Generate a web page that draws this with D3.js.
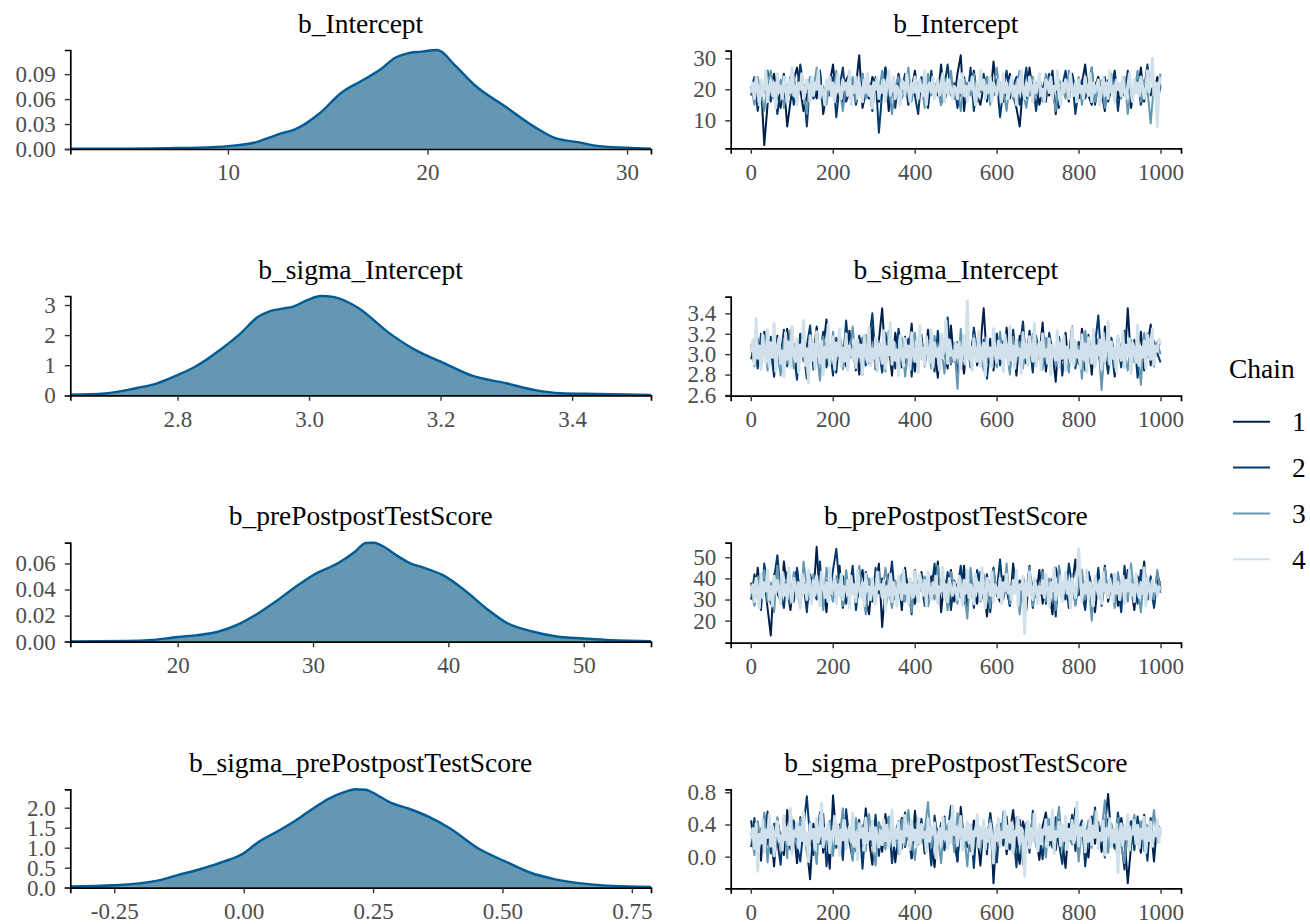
<!DOCTYPE html>
<html><head><meta charset="utf-8">
<script src="https://cdn.jsdelivr.net/npm/d3@7"></script>
<style>body{margin:0;background:#fff}</style>
</head><body><svg id="c" width="1310" height="924"></svg>
<script>
// ---------------- DATA ----------------
const params = ["b_Intercept","b_sigma_Intercept","b_prePostpostTestScore","b_sigma_prePostpostTestScore"];
const chains = ["1","2","3","4"];
const chainColors = ["#011f4b","#03396c","#6497b1","#d1e1ec"];

// density curves: [value, density]
const densIntercept = [[2.1,0.0003],[5,0.0005],[7,0.001],[8.5,0.0016],[10,0.0035],[11.3,0.0075],[12.1,0.014],[12.7,0.019],[13.3,0.023],[14.6,0.043],[15.7,0.068],[16.7,0.082],[17.6,0.095],[18.4,0.110],[19,0.115],[19.7,0.117],[20.5,0.119],[21.4,0.100],[22.4,0.076],[23.9,0.051],[25.4,0.026],[26.4,0.013],[27.6,0.008],[28.4,0.004],[30,0.0015],[31.2,0.0004]];
const densSigmaIntercept = [[2.637,0.02],[2.69,0.06],[2.74,0.25],[2.768,0.39],[2.8,0.67],[2.826,0.94],[2.864,1.5],[2.896,2.06],[2.922,2.6],[2.941,2.8],[2.96,2.88],[2.976,2.95],[2.998,3.17],[3.018,3.3],[3.037,3.27],[3.075,2.9],[3.12,2.1],[3.158,1.55],[3.21,1.02],[3.248,0.65],[3.3,0.4],[3.344,0.17],[3.382,0.07],[3.44,0.045],[3.52,0.01]];
const densPrePost = [[12.07,0.0002],[16.3,0.0005],[18.1,0.0013],[20,0.0036],[21.5,0.005],[23.1,0.008],[24.3,0.0125],[25.9,0.0215],[27.4,0.032],[28.7,0.042],[30,0.051],[31.9,0.0605],[33.1,0.069],[33.9,0.0757],[34.5,0.0759],[35.2,0.073],[36.2,0.066],[37.2,0.06],[38.1,0.057],[39.6,0.051],[41.2,0.0395],[42.8,0.0255],[44.3,0.0145],[46.2,0.0078],[48,0.004],[50,0.0025],[52,0.0012],[54.97,0.0004]];
const densSigmaPrePost = [[-0.335,0.03],[-0.25,0.06],[-0.169,0.17],[-0.129,0.31],[-0.08,0.48],[-0.039,0.65],[0,0.86],[0.026,1.12],[0.067,1.42],[0.099,1.67],[0.132,1.96],[0.164,2.22],[0.197,2.4],[0.215,2.46],[0.235,2.45],[0.26,2.3],[0.285,2.12],[0.318,1.98],[0.358,1.77],[0.399,1.48],[0.456,0.96],[0.505,0.66],[0.553,0.38],[0.602,0.21],[0.667,0.09],[0.715,0.045],[0.787,0.02]];

// tick values
const densXTicks = [[10,20,30],[2.8,3.0,3.2,3.4],[20,30,40,50],[-0.25,0,0.25,0.5,0.75]];
const densYTicks = [[0,0.03,0.06,0.09],[0,1,2,3],[0,0.02,0.04,0.06],[0,0.5,1,1.5,2]];
const densXDec = [0,1,0,2];
const densYDec = [2,0,2,1];
const traceXTicks = [0,200,400,600,800,1000];
const traceYTicks = [[10,20,30],[2.6,2.8,3.0,3.2,3.4],[20,30,40,50],[0.0,0.4,0.8]];
const traceYDec = [0,1,0,1];
const traceYLimits = [[0.97,32.45],[2.593,3.563],[9.57,56.9],[-0.393,0.837]];
const iterLimits = [1,1000];

// thinned trace draws, per chain (chains 1-3 every ~8th iteration, chain 4 every ~4th)
const traceIntercept1 = [20,24,17,22,2,15,21,25,18,14,22,8,16,23,27,20,13,18,24,21,17,26,12,19,22,28,16,20,15,23,25,18,21,31,14,19,17,24,22,16,20,27,13,21,18,25,19,23,15,20,26,17,22,19,14,24,21,18,28,16,20,23,17,25,31,13,22,20,26,18,15,21,24,17,29,19,22,16,20,25,18,14,8,21,17,27,19,22,15,20,24,18,26,12,21,19,23,16,25,20,17,22,28,18,15,21,24,19,13,23,20,26,17,22,18,25,14,21,19,27,16,23,20,18,24,21];
const traceIntercept2 = [18,23,13,21,19,26,16,22,12,20,25,17,24,15,19,28,21,8,23,17,20,26,14,22,18,24,11,21,27,16,19,23,15,20,25,18,22,13,24,6,19,27,17,21,14,23,20,25,16,22,18,12,24,20,17,26,19,23,15,21,28,18,22,14,20,24,17,27,13,21,19,25,16,22,18,23,11,20,26,17,21,24,15,19,27,18,22,13,23,20,16,25,19,22,14,21,26,18,24,12,20,23,17,21,27,15,22,19,24,16,20,25,13,22,18,26,17,21,23,15,20,28,18,22,16,21];
const traceIntercept3 = [21,15,24,19,13,22,26,17,20,23,14,21,18,25,16,22,19,12,24,20,27,17,21,15,23,18,26,20,13,22,19,24,16,21,25,17,20,14,23,19,26,18,22,12,21,24,17,20,27,16,23,19,21,14,25,18,22,20,15,24,19,26,17,21,13,23,20,18,25,16,22,19,24,15,21,27,18,20,13,23,17,22,26,19,14,21,24,18,20,16,25,22,19,13,23,21,17,26,20,18,24,15,22,19,27,16,21,23,14,20,25,18,22,17,24,12,21,19,26,16,23,20,9,22,19,25];
const traceIntercept4 = [19,22,17,24,20,15,23,18,21,26,16,20,23,18,22,14,25,19,21,17,24,20,16,23,19,
27,18,21,15,22,20,25,17,19,23,21,16,24,18,22,20,26,17,21,19,15,23,20,24,18,
22,16,21,25,19,17,23,20,22,18,26,15,21,19,24,17,22,20,16,23,19,25,18,21,14,
22,20,24,17,21,19,23,16,22,26,18,20,24,17,21,19,15,23,22,18,25,20,16,22,19,
24,21,17,23,20,18,26,15,21,22,19,24,17,20,23,18,21,25,16,22,19,23,20,17,21,
20,17,23,19,25,18,21,16,22,20,24,19,15,22,18,26,20,23,17,21,19,24,16,22,20,
18,23,21,16,25,19,22,17,20,24,18,21,15,23,19,26,20,17,22,18,24,21,16,23,19,
21,25,18,20,16,23,22,19,24,17,21,20,26,18,15,22,19,23,21,17,25,20,18,22,16,
23,19,21,17,24,20,18,25,16,22,19,21,23,15,20,24,18,22,17,26,19,21,16,23,20,
22,18,24,19,17,21,25,20,16,23,19,22,18,24,21,17,20,26,19,23,30,18,22,8,21,24];

const traceSigmaInt1 = [3.08,2.92,3.15,2.87,3.22,2.95,3.05,2.78,3.18,3.01,2.89,3.25,2.96,3.10,2.84,3.20,3.03,2.76,3.14,2.98,3.27,2.90,3.07,3.34,2.93,3.12,2.82,3.19,3.00,2.88,3.23,2.97,3.11,2.80,3.16,3.04,2.91,3.26,2.85,3.13,3.45,2.94,3.09,2.79,3.21,3.02,2.87,3.17,2.95,3.30,2.83,3.08,3.14,2.90,3.24,2.98,3.05,2.77,3.19,3.01,2.86,3.28,2.93,3.12,3.03,2.81,3.16,2.97,3.22,2.89,3.07,3.45,2.92,3.15,2.84,3.20,3.00,2.88,3.26,2.95,3.10,2.79,3.18,3.04,2.91,3.23,2.86,3.13,2.98,3.31,2.83,3.09,3.02,2.73,3.17,2.94,3.21,2.87,3.11,3.06,2.90,3.25,2.96,3.14,2.80,3.19,3.01,2.85,3.27,2.93,3.08,2.78,3.16,3.03,2.89,3.45,2.92,3.12,2.97,3.22,2.84,3.10,3.29,2.95,3.06,3.12];
const traceSigmaInt2 = [2.95,3.12,2.86,3.20,3.03,2.90,3.17,2.81,3.09,2.97,3.24,2.88,3.14,3.00,2.75,3.19,2.93,3.08,3.28,2.85,3.11,2.99,3.22,2.87,3.05,2.79,3.16,3.02,2.92,3.33,2.96,3.07,2.84,3.18,3.01,2.89,3.13,3.40,2.94,3.06,2.82,3.21,2.98,3.10,2.86,3.25,3.03,2.91,3.15,2.78,3.08,2.97,3.19,2.88,3.12,3.00,2.83,3.23,2.95,3.09,3.36,2.90,3.04,2.80,3.17,2.99,3.11,2.87,3.26,3.02,2.93,3.14,2.76,3.07,2.96,3.20,2.89,3.13,3.01,2.85,3.24,2.94,3.06,3.32,2.91,3.10,2.82,3.18,2.98,3.05,2.88,3.21,3.03,2.92,3.15,2.79,3.08,2.97,3.27,2.86,3.12,3.00,2.84,3.19,2.95,3.09,3.38,2.90,3.04,2.81,3.16,2.99,3.11,2.87,3.23,3.02,2.93,3.14,2.77,3.07,2.96,3.20,2.89,3.13,3.01,2.92];
const traceSigmaInt3 = [3.10,2.88,3.05,2.93,3.18,2.84,3.12,2.97,3.02,2.79,3.15,2.91,3.24,2.86,3.08,2.99,3.20,2.82,3.11,2.95,3.06,2.74,3.17,3.01,2.89,3.22,2.94,3.09,2.85,3.14,2.98,3.27,2.90,3.04,2.80,3.19,2.96,3.07,2.87,3.13,3.00,2.83,3.23,2.92,3.10,2.97,3.16,2.78,3.05,2.93,3.21,2.88,3.12,2.99,3.03,2.86,3.18,2.94,3.08,2.81,3.15,2.91,3.11,2.66,3.25,2.95,3.06,2.89,3.19,2.98,3.02,2.84,3.14,2.92,3.09,2.87,3.22,2.96,3.04,2.80,3.17,2.93,3.12,2.86,3.07,2.99,3.20,2.90,3.01,2.85,3.16,2.94,3.10,2.88,3.13,2.97,3.05,2.82,3.19,2.91,3.08,2.76,3.23,2.95,3.03,2.89,3.15,2.65,3.11,2.93,3.06,2.87,3.18,2.98,3.02,2.84,3.14,2.92,3.09,2.70,3.21,2.96,3.04,2.88,3.12,3.00];
const traceSigmaInt4 = [3.02,3.14,2.90,3.35,2.96,3.08,2.85,3.19,3.01,2.92,3.24,2.88,3.11,2.97,3.30,2.83,3.06,3.16,2.91,3.03,2.78,3.21,2.95,3.12,2.87,
3.27,3.00,2.93,3.15,2.82,3.09,2.98,3.33,2.89,3.05,2.72,3.18,2.94,3.10,2.86,3.22,3.01,2.91,3.13,2.80,3.07,2.97,3.29,2.90,3.04,
3.17,2.85,3.11,2.99,3.25,2.88,3.06,2.93,3.20,2.84,3.08,3.02,2.95,3.14,2.87,3.14,2.98,3.09,2.81,3.19,3.00,2.92,3.26,2.89,3.05,
2.96,3.16,2.83,3.10,3.03,2.91,3.23,2.86,3.07,2.99,3.31,2.90,3.12,2.94,3.04,2.79,3.18,3.01,2.88,3.15,2.97,3.08,2.85,3.21,3.00,
2.93,3.13,2.82,3.28,2.95,3.06,2.89,3.17,3.02,2.92,3.24,2.87,3.11,2.98,3.05,2.84,3.20,2.96,3.09,3.33,2.91,3.14,2.99,3.03,2.94,
3.10,2.97,3.12,2.86,3.05,3.18,2.90,3.52,2.95,3.07,2.84,3.15,3.00,2.93,3.22,2.88,3.04,3.11,2.79,3.16,2.98,3.06,2.87,3.25,3.01,
2.92,3.13,2.96,3.09,2.83,3.19,3.03,2.90,3.27,2.94,3.08,2.86,3.14,2.99,3.05,2.81,3.21,2.97,3.10,2.89,3.17,3.02,2.93,3.30,2.88,
3.06,3.12,2.85,3.20,2.98,3.04,2.91,3.15,2.80,3.09,3.01,2.94,3.23,2.87,3.11,2.96,3.18,2.84,3.07,3.00,2.92,3.26,2.89,3.13,2.97,
3.03,2.86,3.19,2.95,3.10,2.82,3.16,3.02,2.91,3.24,2.88,3.08,2.99,3.14,2.85,3.21,2.93,3.05,3.32,2.90,3.12,2.96,3.06,2.83,3.17,
3.00,2.94,3.22,2.87,3.09,2.98,3.15,2.81,3.11,3.04,2.92,3.28,2.89,3.07,2.97,3.13,2.86,3.19,3.01,2.95,3.25,2.90,3.08,3.03,3.14,3.10];

const tracePrePost1 = [38,28,45,31,40,26,13,42,33,29,48,35,25,39,44,30,36,27,41,32,55,29,37,24,43,34,30,46,26,38,33,41,28,36,44,31,23,39,35,47,17,37,42,29,34,40,25,45,32,38,28,36,43,30,27,41,35,48,24,39,33,44,29,37,31,46,26,40,34,28,43,36,22,38,45,32,29,41,35,27,47,33,39,30,25,42,36,31,44,28,38,34,23,45,37,30,41,26,36,49,32,39,28,43,35,24,40,33,46,29,37,42,27,38,31,44,36,25,41,34,48,30,39,27,43,35];
const tracePrePost2 = [30,42,34,25,47,36,28,40,51,33,26,43,37,29,45,31,38,24,42,35,30,48,27,39,33,44,54,36,41,28,34,46,25,38,31,43,37,29,45,33,40,26,35,48,30,39,28,42,36,23,44,32,38,27,41,34,47,29,37,31,43,25,39,35,46,28,33,40,26,44,36,30,42,24,38,34,49,31,37,27,43,35,29,41,33,46,26,39,32,44,28,36,40,22,45,34,30,47,37,28,41,33,25,43,36,31,45,27,38,34,42,29,36,24,46,32,40,35,28,44,37,30,41,26,39,38];
const tracePrePost3 = [35,27,41,33,44,29,38,24,46,31,37,40,28,43,34,26,48,36,30,42,33,39,25,45,35,29,41,37,27,44,32,38,30,46,34,23,40,36,28,43,31,45,35,26,39,33,42,29,37,24,44,32,38,41,27,35,30,46,33,39,25,43,36,28,40,34,21,45,31,37,29,42,35,26,44,33,38,30,47,28,36,41,23,39,34,45,27,37,32,43,29,40,35,25,46,33,38,31,42,27,36,44,30,39,20,41,35,28,45,32,37,26,43,34,39,29,47,31,36,24,42,35,38,30,44,33];
const tracePrePost4 = [33,37,29,40,35,26,42,31,38,34,44,30,36,27,41,33,39,35,28,43,32,37,30,45,34,
29,40,36,31,38,26,42,33,37,30,44,35,28,39,32,41,34,27,43,36,31,38,29,45,33,
35,40,28,37,32,42,30,36,34,39,26,41,33,37,29,44,35,31,38,27,42,34,36,30,40,
33,28,43,35,37,31,39,25,36,32,42,29,38,34,27,41,35,30,44,33,37,28,40,36,31,
43,34,29,42,37,32,39,27,43,35,30,38,33,41,28,36,34,45,31,37,29,40,35,32,38,
34,30,41,36,27,39,33,44,31,37,35,28,42,34,38,30,45,33,26,40,36,32,43,29,37,
35,31,40,28,38,34,42,33,36,30,39,33,44,27,37,35,41,14,38,32,43,34,30,40,36,
28,36,33,39,31,42,35,27,38,34,45,30,37,32,41,29,36,43,33,38,26,40,35,31,39,
54,42,29,37,33,44,30,38,35,27,41,36,32,39,28,43,34,37,31,40,35,29,42,33,38,
30,36,41,28,39,34,44,32,37,29,42,35,31,38,33,45,27,40,36,30,39,34,37,32,36,35];

const traceSigmaPP1 = [0.45,0.08,0.38,-0.05,0.52,0.15,0.31,-0.12,0.47,0.22,0.02,0.58,0.19,0.36,-0.08,0.49,0.26,0.11,-0.28,0.41,0.17,0.55,0.05,0.33,-0.15,0.76,0.24,0.40,0.09,0.51,0.18,-0.03,0.44,0.29,0.13,0.60,0.21,-0.10,0.37,0.27,0.06,0.53,0.16,0.42,-0.07,0.30,0.48,0.12,0.35,-0.02,0.57,0.20,0.39,0.04,0.46,0.14,-0.13,0.34,0.25,0.50,0.10,0.43,0.23,-0.06,0.62,0.18,0.32,0.07,0.45,0.28,-0.11,0.40,0.15,0.54,-0.33,0.36,0.21,0.47,0.03,0.31,0.58,0.17,-0.09,0.44,0.26,0.12,0.49,0.22,-0.04,0.38,0.55,0.14,0.29,0.08,0.46,0.19,-0.14,0.41,0.27,0.60,0.11,0.35,0.23,-0.01,0.50,0.16,0.43,0.06,0.37,0.78,0.20,0.32,-0.08,0.48,0.25,-0.33,0.13,0.44,0.29,0.05,0.52,0.18,0.39,-0.06,0.42,0.30];
const traceSigmaPP2 = [0.12,0.48,-0.03,0.35,0.21,0.56,0.04,0.41,0.18,-0.10,0.50,0.27,0.09,0.45,0.14,-0.06,0.38,0.75,0.22,0.02,0.43,0.16,0.53,-0.12,0.30,0.47,0.11,0.36,-0.04,0.59,0.20,0.33,0.07,0.46,-0.15,0.40,0.25,0.13,0.52,0.01,0.37,0.19,0.49,-0.08,0.28,0.44,0.10,0.55,0.23,-0.02,0.39,0.15,0.47,0.06,0.34,-0.11,0.51,0.21,0.42,0.08,0.31,0.63,0.17,-0.05,0.45,0.26,0.12,0.38,-0.14,0.48,0.19,0.35,0.03,0.54,0.24,-0.07,0.41,0.14,0.50,0.09,0.33,-0.13,0.46,0.22,0.37,0.05,0.57,0.18,0.29,-0.03,0.43,0.27,0.11,0.49,0.16,-0.09,0.40,0.24,0.52,0.07,0.34,0.45,-0.12,0.30,0.20,0.61,0.13,0.38,-0.01,0.47,0.26,0.10,0.55,0.19,-0.16,0.36,0.44,0.08,0.50,0.23,0.32,-0.05,0.48,0.15,0.39,0.28];
const traceSigmaPP3 = [0.30,0.02,0.44,0.18,0.55,-0.07,0.36,0.23,0.49,0.10,0.40,-0.02,0.57,0.26,0.13,0.47,0.31,0.05,0.42,0.20,-0.09,0.52,0.28,0.15,0.45,0.01,0.38,0.24,0.60,0.12,0.34,-0.05,0.48,0.21,0.39,0.07,0.53,0.17,-0.11,0.43,0.29,0.09,0.50,0.25,0.35,0.03,0.46,0.14,0.58,0.22,-0.04,0.41,0.19,0.32,0.68,0.11,0.37,0.26,-0.08,0.48,0.16,0.44,0.06,0.54,0.23,0.31,-0.12,0.40,0.18,0.51,0.08,0.35,0.27,0.46,-0.03,0.39,0.14,0.56,0.21,0.33,0.04,0.49,0.25,-0.10,0.42,0.17,0.53,0.12,0.37,0.28,-0.01,0.47,0.20,0.34,0.62,0.09,0.43,0.24,0.15,0.50,-0.06,0.38,0.26,0.45,0.11,0.57,0.19,0.32,0.70,0.05,0.41,0.22,0.48,0.13,-0.08,0.36,0.27,0.52,0.16,0.44,0.07,0.39,0.23,0.58,0.18,0.34];
const traceSigmaPP4 = [0.22,0.35,0.10,0.41,-0.18,0.28,0.17,0.46,0.06,0.33,0.24,0.52,0.13,0.38,0.01,0.30,0.44,0.19,0.26,0.08,0.49,0.21,0.36,0.15,0.60,
0.03,0.32,0.25,0.43,0.11,0.37,0.20,0.55,0.14,0.29,-0.06,0.40,0.23,0.34,0.09,0.47,0.18,0.27,0.66,0.12,0.35,0.22,0.42,0.05,0.31,
0.26,0.50,0.16,0.39,0.02,0.33,0.21,0.45,0.10,0.28,0.37,0.19,0.54,0.13,0.30,-0.04,0.41,0.24,0.35,0.08,0.48,0.17,0.29,0.22,0.44,
0.07,0.36,0.25,0.12,0.32,0.15,0.46,0.20,0.39,0.11,0.27,0.58,0.14,0.34,0.23,0.43,0.04,0.31,0.18,0.51,0.26,0.38,0.09,0.45,0.21,
0.33,0.12,0.48,0.16,0.40,0.24,0.30,0.06,0.47,0.19,0.36,0.28,0.42,-0.02,0.25,0.35,0.13,0.49,0.22,0.31,0.10,0.44,0.18,0.63,0.27,
0.37,0.14,0.29,0.50,0.08,0.34,0.21,0.43,0.17,0.39,0.03,0.31,0.26,0.52,0.12,0.36,0.23,0.45,0.09,0.33,0.19,0.41,0.27,-0.08,0.35,
0.20,0.47,0.13,0.30,0.24,0.56,0.10,0.38,0.18,0.42,0.05,0.32,0.27,0.49,0.15,0.36,0.22,-0.24,0.29,0.44,0.11,0.35,0.19,0.53,0.25,
0.07,0.40,0.16,0.33,0.28,0.46,0.12,0.37,0.21,0.58,0.04,0.31,0.25,0.43,0.14,0.39,0.20,0.50,0.09,0.34,0.23,0.45,0.17,0.30,0.68,
0.13,0.36,0.26,0.42,0.06,0.32,0.19,0.48,0.15,0.38,0.24,0.55,0.10,0.29,0.21,0.44,0.02,0.35,0.27,0.47,0.12,0.33,0.18,0.40,-0.20,
0.25,0.41,0.14,0.37,0.22,0.52,0.08,0.31,0.28,0.45,0.16,0.39,0.11,0.34,0.23,0.49,0.05,0.36,0.20,0.43,0.13,0.30,0.26,0.46,0.18,0.37];

const densities = [densIntercept, densSigmaIntercept, densPrePost, densSigmaPrePost];
const traces = [
  [traceIntercept1, traceIntercept2, traceIntercept3, traceIntercept4],
  [traceSigmaInt1, traceSigmaInt2, traceSigmaInt3, traceSigmaInt4],
  [tracePrePost1, tracePrePost2, tracePrePost3, tracePrePost4],
  [traceSigmaPP1, traceSigmaPP2, traceSigmaPP3, traceSigmaPP4]
];

// ---------------- LAYOUT / STYLE ----------------
const FONT = "'Liberation Serif','Times New Roman',serif";
const svg = d3.select("#c");
const leftX = [70.3, 651], rightX = [730.7, 1181];
const densRows = [[50,149],[296,395.3],[542.7,641.7],[789.3,887.7]];
const traceRows = [[50.7,148.3],[296.7,395.7],[542.7,642.7],[789.3,888.3]];

function styleAxis(g){
  g.attr("font-family", FONT).attr("font-size", 23);
  g.select(".domain").attr("stroke","#000").attr("stroke-width",1.7);
  g.selectAll(".tick line").attr("stroke","#333").attr("stroke-width",1.4);
  g.selectAll(".tick text").attr("fill","#4d4d4d");
}
function fmt(dec){ return d => (+d).toFixed(dec); }

function title(text, x0, x1, top){
  svg.append("text").attr("x",(x0+x1)/2).attr("y",top-17.5)
    .attr("text-anchor","middle").attr("font-family",FONT).attr("font-size",27.5)
    .attr("fill","#000").text(text);
}

params.forEach((p, i) => {
  // ---- density panel ----
  const dd = densities[i];
  const [dTop, dBot] = densRows[i];
  const x = d3.scaleLinear().domain(d3.extent(dd, d => d[0])).range(leftX);
  const y = d3.scaleLinear().domain([0, d3.max(dd, d => d[1])]).range([dBot, dTop]);
  const area = d3.area().x(d => x(d[0])).y0(y(0)).y1(d => y(d[1])).curve(d3.curveMonotoneX);
  const line = d3.line().x(d => x(d[0])).y(d => y(d[1])).curve(d3.curveMonotoneX);
  svg.append("path").datum(dd).attr("d", area).attr("fill","#6497b1");
  svg.append("path").datum(dd).attr("d", line).attr("fill","none").attr("stroke","#005b96").attr("stroke-width",2.4);
  const gx = svg.append("g").attr("transform",`translate(0,${dBot})`)
    .call(d3.axisBottom(x).tickValues(densXTicks[i]).tickFormat(fmt(densXDec[i])).tickSizeOuter(0).tickSize(5.5).tickPadding(9.5));
  styleAxis(gx);
  const gy = svg.append("g").attr("transform",`translate(${leftX[0]},0)`)
    .call(d3.axisLeft(y).tickValues(densYTicks[i]).tickFormat(fmt(densYDec[i])).tickSizeOuter(0).tickSize(5.5).tickPadding(9));
  styleAxis(gy);
  title(p, leftX[0], leftX[1], dTop);

  // ---- trace panel ----
  const [tTop, tBot] = traceRows[i];
  const span = iterLimits[1] - iterLimits[0];
  const tx = d3.scaleLinear().domain([iterLimits[0] - 0.05*span, iterLimits[1] + 0.05*span]).range(rightX);
  const ty = d3.scaleLinear().domain(traceYLimits[i]).range([tBot, tTop]);
  const clipId = "clip"+i;
  svg.append("clipPath").attr("id",clipId).append("rect")
    .attr("x",rightX[0]).attr("y",tTop).attr("width",rightX[1]-rightX[0]).attr("height",tBot-tTop);
  const gl = svg.append("g").attr("clip-path",`url(#${clipId})`);
  traces[i].forEach((vals, c) => {
    const n = vals.length;
    const tl = d3.line().x((d, k) => tx(iterLimits[0] + k*span/(n-1))).y(d => ty(d));
    gl.append("path").datum(vals).attr("d", tl).attr("fill","none")
      .attr("stroke", chainColors[c]).attr("stroke-width", c === 3 ? 3.0 : 2.0).attr("stroke-linejoin","round");
  });
  const tgx = svg.append("g").attr("transform",`translate(0,${tBot})`)
    .call(d3.axisBottom(tx).tickValues(traceXTicks).tickFormat(fmt(0)).tickSizeOuter(0).tickSize(5.5).tickPadding(9.5));
  styleAxis(tgx);
  const tgy = svg.append("g").attr("transform",`translate(${rightX[0]},0)`)
    .call(d3.axisLeft(ty).tickValues(traceYTicks[i]).tickFormat(fmt(traceYDec[i])).tickSizeOuter(0).tickSize(5.5).tickPadding(9));
  styleAxis(tgy);
  title(p, rightX[0], rightX[1], tTop);
});

// ---------------- LEGEND ----------------
const leg = svg.append("g").attr("font-family",FONT);
leg.append("text").attr("x",1229).attr("y",378).attr("font-size",27.5).attr("fill","#000").text("Chain");
const ly = d3.scalePoint().domain(chains).range([421.7, 559.3]);
chains.forEach((c, k) => {
  leg.append("line").attr("x1",1233).attr("x2",1270).attr("y1",ly(c)).attr("y2",ly(c))
    .attr("stroke",chainColors[k]).attr("stroke-width",2);
  leg.append("text").attr("x",1292).attr("y",ly(c)+9.5).attr("font-size",27.5).attr("fill","#000").text(c);
});
</script>
</body></html>
